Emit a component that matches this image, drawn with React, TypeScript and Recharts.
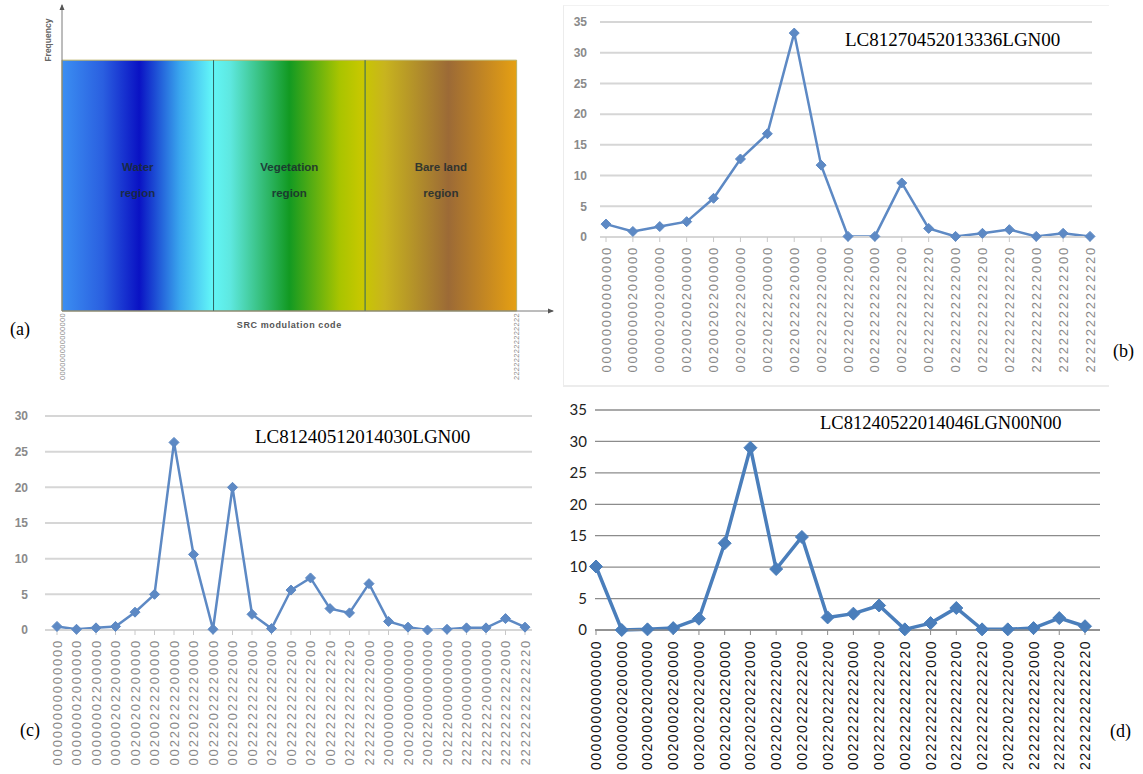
import React from "react";
import {
  ComposedChart,
  LineChart,
  Line,
  XAxis,
  YAxis,
  CartesianGrid,
  ReferenceArea,
  ReferenceLine,
  ReferenceDot,
} from "recharts";

// (a) SRC modulation code diagram
const regionNames = ["Water", "Vegetation", "Bare land"];
const regionStarts = [0, 1, 2];
const srcEndCodes = ["000000000000000", "222222222222222"];
const srcAxisTicks = [0, 3];

// (b) LC81270452013336LGN00
const bTitle = "LC81270452013336LGN00";
const bCodes = [
  "00000000000000", "00000000200000", "00000200200000", "00200200200000",
  "00200202200000", "00200222200000", "00220222200000", "00220222220000",
  "00222222220000", "00222022222000", "00222222222000", "00222222222200",
  "00222222222220", "02222222222000", "02222222222200", "02222222222220",
  "22222222222000", "22222222222200", "22222222222220",
];
const bValues = [2.1, 0.9, 1.7, 2.5, 6.3, 12.7, 16.8, 33.2, 11.7, 0.1, 0.1, 8.8, 1.4, 0.1, 0.6, 1.2, 0.1, 0.6, 0.1];
const bTicks = [0, 5, 10, 15, 20, 25, 30, 35];

// (c) LC81240512014030LGN00
const cTitle = "LC81240512014030LGN00";
const cCodes = [
  "00000000000000", "00000002000000", "00000002200000", "00000202200000",
  "00200202200000", "00200222200000", "00220222200000", "00220222220000",
  "00222022220000", "00222022222000", "00222222222000", "02222222222000",
  "00222222222200", "02222222222200", "00222222222220", "02222222222220",
  "22222222222000", "20000000000000", "20020000000000", "20022000000000",
  "20222000000000", "22222000000000", "22222220000000", "22222222222000",
  "22222222222220",
];
const cValues = [0.5, 0.1, 0.3, 0.5, 2.5, 5.0, 26.3, 10.6, 0.1, 20.0, 2.2, 0.2, 5.6, 7.3, 3.0, 2.4, 6.5, 1.2, 0.4, 0.0, 0.1, 0.3, 0.3, 1.6, 0.4];
const cTicks = [0, 5, 10, 15, 20, 25, 30];

// (d) LC81240522014046LGN00N00
const dTitle = "LC81240522014046LGN00N00";
const dCodes = [
  "00000000000000", "00000020200000", "00200020200000", "00200020220000",
  "00200220220000", "00220220220000", "00220220222000", "00220222222000",
  "00220222222200", "00222022222200", "00222222222000", "00222222222200",
  "00222222222220", "02222222222000", "02222222222200", "02222222222220",
  "20222022222000", "22222222222000", "22222222222200", "22222222222220",
];
const dValues = [10.1, 0, 0.1, 0.3, 1.8, 13.8, 29.0, 9.7, 14.8, 2.0, 2.6, 3.9, 0.1, 1.1, 3.5, 0.1, 0.1, 0.3, 1.9, 0.6];
const dTicks = [0, 5, 10, 15, 20, 25, 30, 35];

const gradientStops: [string, string][] = [
  ["0%", "#3b8ff2"],
  ["9%", "#2a5fe0"],
  ["17%", "#0a12c4"],
  ["26%", "#3aa8ee"],
  ["33%", "#62f6f8"],
  ["37%", "#5ee8e0"],
  ["50%", "#129a22"],
  ["61%", "#a8c400"],
  ["66%", "#c8c800"],
  ["71%", "#c8b41e"],
  ["85%", "#9c6a36"],
  ["100%", "#e6a012"],
];

const toRows = (codes: string[], values: number[]) =>
  codes.map((code, i) => ({ code, value: values[i] }));

function CodeTick(props: any) {
  const { x, y, payload, fill, fontSize, spacing, gap, family } = props;
  const ty = y + gap;
  return (
    <text
      x={x}
      y={ty}
      transform={`rotate(-90 ${x} ${ty})`}
      textAnchor="end"
      dominantBaseline="central"
      fill={fill}
      fontSize={fontSize}
      fontFamily={family}
      letterSpacing={spacing}
    >
      {payload.value}
    </text>
  );
}

function diamond(size: number, color: string) {
  return (p: any) => {
    const { cx, cy, index } = p;
    return (
      <path
        key={index}
        d={`M${cx},${cy - size} L${cx + size},${cy} L${cx},${cy + size} L${cx - size},${cy} Z`}
        fill={color}
        stroke={color}
      />
    );
  };
}

function RegionLabel(props: any) {
  const { viewBox, name } = props;
  const cx = viewBox.x + viewBox.width / 2;
  const cy = viewBox.y + viewBox.height * 0.47;
  return (
    <text textAnchor="middle" fontFamily="Liberation Sans" fontWeight="bold" fontSize={11.5} fill="#1c2a30" opacity={0.85}>
      <tspan x={cx} y={cy - 7}>{name}</tspan>
      <tspan x={cx} y={cy + 19}>region</tspan>
    </text>
  );
}

function SrcDiagram() {
  return (
    <ComposedChart width={560} height={380} data={[{ x: 0 }, { x: 3 }]} margin={{ top: 5, right: 7, bottom: 0, left: 0 }}>
      <defs>
        <linearGradient id="srcGrad" x1="0" y1="0" x2="1" y2="0">
          {gradientStops.map(([o, c]) => (
            <stop key={o} offset={o} stopColor={c} />
          ))}
        </linearGradient>
      </defs>
      <XAxis
        dataKey="x"
        type="number"
        domain={[0, 3.24]}
        ticks={srcAxisTicks}
        height={69}
        axisLine={{ stroke: "#7a7a7a" }}
        tickLine={false}
        tick={(p: any) => (
          <CodeTick {...p} payload={{ value: srcEndCodes[p.payload.value === 0 ? 0 : 1] }} gap={-6} fill="#8a8a8a" fontSize={7.5} spacing={0.3} family="Liberation Sans" />
        )}
        allowDataOverflow
      />
      <YAxis type="number" domain={[0, 1.22]} ticks={[]} width={62} axisLine={{ stroke: "#7a7a7a" }} tickLine={false} allowDataOverflow />
      <ReferenceArea x1={0} x2={3} y1={0} y2={1} fill="url(#srcGrad)" fillOpacity={1} stroke="#b8b060" strokeWidth={1} />
      {regionStarts.map((s, i) => (
        <ReferenceArea key={s} x1={s} x2={s + 1} y1={0} y2={1} fill="none" stroke="none" label={<RegionLabel name={regionNames[i]} />} />
      ))}
      {regionStarts.slice(1).map((s) => (
        <ReferenceLine key={s} segment={[{ x: s, y: 0 }, { x: s, y: 1 }]} stroke="#2f6464" strokeWidth={1} />
      ))}
      <ReferenceDot
        x={0}
        y={1.22}
        ifOverflow="visible"
        shape={(p: any) => <path d={`M${p.cx},${p.cy - 1} L${p.cx + 2.5},${p.cy + 5} L${p.cx - 2.5},${p.cy + 5} Z`} fill="#555" />}
      />
      <ReferenceDot
        x={3.24}
        y={0}
        ifOverflow="visible"
        shape={(p: any) => <path d={`M${p.cx + 1},${p.cy} L${p.cx - 5},${p.cy - 2.5} L${p.cx - 5},${p.cy + 2.5} Z`} fill="#555" />}
      />
      <ReferenceDot
        x={0}
        y={1.08}
        ifOverflow="visible"
        shape={(p: any) => (
          <text x={p.cx - 14} y={p.cy} transform={`rotate(-90 ${p.cx - 14} ${p.cy})`} textAnchor="middle" dominantBaseline="central" fontFamily="Liberation Sans" fontWeight="bold" fontSize={8.5} fill="#666">
            Frequency
          </text>
        )}
      />
      <ReferenceDot
        x={1.5}
        y={0}
        ifOverflow="visible"
        shape={(p: any) => (
          <text x={p.cx} y={p.cy + 14} textAnchor="middle" dominantBaseline="central" fontFamily="Liberation Sans" fontWeight="bold" fontSize={9} fill="#555" letterSpacing={0.6}>
            SRC modulation code
          </text>
        )}
      />
    </ComposedChart>
  );
}

type PanelProps = {
  rows: { code: string; value: number }[];
  width: number;
  height: number;
  top: number;
  right: number;
  axisHeight: number;
  yWidth: number;
  yShift: number;
  ticks: number[];
  max: number;
  padL: number;
  padR: number;
  crisp?: boolean;
};

function CodePanel({ rows, width, height, top, right, axisHeight, yWidth, yShift, ticks, max, padL, padR, crisp }: PanelProps) {
  const lineColor = crisp ? "#4a7ebb" : "#5d89c4";
  const gridColor = crisp ? "#8c8c8c" : "#d6d6d6";
  return (
    <LineChart width={width} height={height} data={rows} margin={{ top, right, bottom: 0, left: 0 }}>
      <CartesianGrid vertical={false} stroke={gridColor} strokeWidth={crisp ? 1.3 : 2} />
      <XAxis
        dataKey="code"
        interval={0}
        height={axisHeight}
        padding={{ left: padL, right: padR }}
        axisLine={{ stroke: gridColor, strokeWidth: crisp ? 1.3 : 2 }}
        tickLine={{ stroke: crisp ? "#8c8c8c" : "#c8c8c8" }}
        tickSize={5}
        tick={(p: any) => (
          <CodeTick
            {...p}
            gap={crisp ? 3 : 2}
            fill={crisp ? "#111" : "#8a8a8a"}
            fontSize={crisp ? 14 : 13}
            spacing={crisp ? 1.5 : 1.8}
            family="Liberation Sans"
          />
        )}
      />
      <YAxis
        domain={[0, max]}
        ticks={ticks}
        width={yWidth}
        axisLine={false}
        tickLine={false}
        dx={yShift}
        tick={{
          fill: crisp ? "#222" : "#8a8a8a",
          fontSize: crisp ? 15 : 12,
          fontFamily: crisp ? "Lato" : "Liberation Sans",
          fontWeight: crisp ? "normal" : "bold",
        }}
      />
      <Line
        dataKey="value"
        stroke={lineColor}
        strokeWidth={crisp ? 3.5 : 2.5}
        dot={diamond(crisp ? 6.5 : 5, lineColor)}
        isAnimationActive={false}
      />
    </LineChart>
  );
}

const serif = "'Liberation Serif', 'Times New Roman', serif";

export default function App() {
  return (
    <div style={{ position: "absolute", left: 0, top: 0, width: 1143, height: 774, background: "#fff", overflow: "hidden" }}>
      <div style={{ position: "absolute", left: 0, top: 0 }}>
        <SrcDiagram />
      </div>
      <div style={{ position: "absolute", left: 10, top: 319, fontFamily: serif, fontSize: 18 }}>(a)</div>

      <div style={{ position: "absolute", left: 563, top: 5, width: 545, height: 379, borderLeft: "1px solid #ececec", borderBottom: "2px solid #ececec", borderTop: "1px solid #f2f2f2" }} />
      <div style={{ position: "absolute", left: 560, top: 0 }}>
        <CodePanel rows={toRows(bCodes, bValues)} width={550} height={390} top={22} right={18} axisHeight={153} yWidth={40} yShift={-5} ticks={bTicks} max={35} padL={6} padR={2} />
      </div>
      <div style={{ position: "absolute", left: 845, top: 30, fontFamily: serif, fontSize: 19, lineHeight: "20px" }}>{bTitle}</div>
      <div style={{ position: "absolute", left: 1113, top: 341, fontFamily: serif, fontSize: 18 }}>(b)</div>

      <div style={{ position: "absolute", left: 0, top: 400 }}>
        <CodePanel rows={toRows(cCodes, cValues)} width={545} height={374} top={16} right={13} axisHeight={144} yWidth={45} yShift={-9} ticks={cTicks} max={30} padL={12} padR={7} />
      </div>
      <div style={{ position: "absolute", left: 255, top: 427, fontFamily: serif, fontSize: 19, lineHeight: "20px" }}>{cTitle}</div>
      <div style={{ position: "absolute", left: 20, top: 720, fontFamily: serif, fontSize: 18 }}>(c)</div>

      <div style={{ position: "absolute", left: 560, top: 390 }}>
        <CodePanel rows={toRows(dCodes, dValues)} width={540} height={384} top={20} right={0} axisHeight={144} yWidth={35} yShift={0} ticks={dTicks} max={35} padL={1} padR={15} crisp />
      </div>
      <div style={{ position: "absolute", left: 820, top: 413, fontFamily: serif, fontSize: 18.5, lineHeight: "20px" }}>{dTitle}</div>
      <div style={{ position: "absolute", left: 1110, top: 721, fontFamily: serif, fontSize: 18 }}>(d)</div>
    </div>
  );
}
